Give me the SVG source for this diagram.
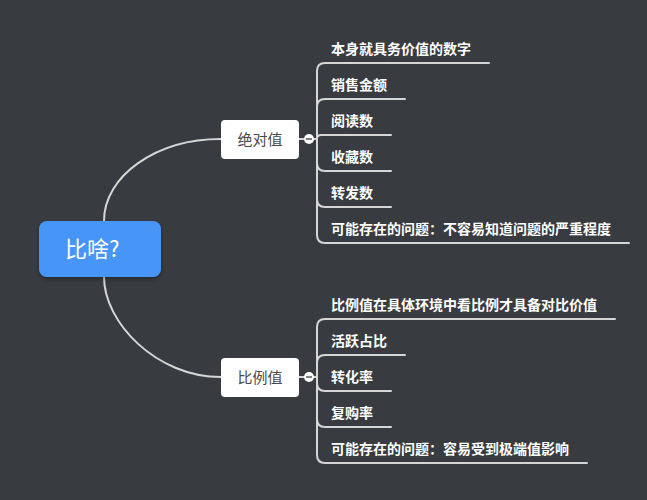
<svg xmlns="http://www.w3.org/2000/svg" width="647" height="500" viewBox="0 0 647 500">
<defs>
<style>
.bg{fill:#383b40}
.conn{fill:none;stroke:#d6d6d6;stroke-width:2;stroke-linecap:round}
.sub{fill:#ffffff;}
.subt{font-family:"Noto Sans CJK SC","Noto Sans",sans-serif;font-size:15px;fill:#4a4a4a;text-anchor:middle}
.leaf{font-family:"Noto Sans CJK SC","Noto Sans",sans-serif;font-size:14px;fill:#ffffff;font-weight:bold}
.roott{font-family:"Noto Sans CJK SC","Noto Sans",sans-serif;font-size:22px;fill:#ffffff}
.tog{fill:#ffffff}
.togm{stroke:#555555;stroke-width:1.5}
</style>
<filter id="sh" x="-20%" y="-20%" width="140%" height="150%">
<feDropShadow dx="0" dy="2" stdDeviation="2" flood-color="#000" flood-opacity="0.35"/>
</filter>
</defs>
<rect class="bg" x="0" y="0" width="647" height="500"/>
<g id="connectors">
<path class="conn" d="M104,221 C104,176 156,139 221,139"/>
<path class="conn" d="M104,277 C104,322 156,377 221,377"/>
<path class="conn" d="M299,139 H317"/>
<path class="conn" d="M299,377 H317"/>
<path class="conn" d="M317,139 V71 Q317,63 325,63 H489"/>
<path class="conn" d="M317,139 V107 Q317,99 325,99 H405"/>
<path class="conn" d="M317,139 Q317,135 321,135 H391"/>
<path class="conn" d="M317,139 V163 Q317,171 325,171 H391"/>
<path class="conn" d="M317,139 V199 Q317,207 325,207 H391"/>
<path class="conn" d="M317,139 V235 Q317,243 325,243 H629"/>
<path class="conn" d="M317,377 V327 Q317,319 325,319 H615"/>
<path class="conn" d="M317,377 V363 Q317,355 325,355 H405"/>
<path class="conn" d="M317,377 V383 Q317,391 325,391 H391"/>
<path class="conn" d="M317,377 V419 Q317,427 325,427 H391"/>
<path class="conn" d="M317,377 V455 Q317,463 325,463 H587"/>
</g>
<g id="root">
<rect x="39" y="221" width="122" height="56" rx="8" fill="#4795f7" filter="url(#sh)"/>
<text class="roott" x="65" y="257">比啥?</text>
</g>
<g id="n-absolute">
<rect class="sub" x="221" y="120" width="78" height="39" rx="4"/>
<text class="subt" x="260" y="145">绝对值</text>
<circle class="tog" cx="309" cy="139" r="5"/>
<line class="togm" x1="306" y1="139" x2="312" y2="139"/>
</g>
<g id="n-ratio">
<rect class="sub" x="221" y="358" width="78" height="39" rx="4"/>
<text class="subt" x="260" y="383">比例值</text>
<circle class="tog" cx="309" cy="377" r="5"/>
<line class="togm" x1="306" y1="377" x2="312" y2="377"/>
</g>
<g id="leaf-a1"><text class="leaf" x="331" y="54">本身就具务价值的数字</text></g>
<g id="leaf-a2"><text class="leaf" x="331" y="90">销售金额</text></g>
<g id="leaf-a3"><text class="leaf" x="331" y="126">阅读数</text></g>
<g id="leaf-a4"><text class="leaf" x="331" y="162">收藏数</text></g>
<g id="leaf-a5"><text class="leaf" x="331" y="198">转发数</text></g>
<g id="leaf-a6"><text class="leaf" x="331" y="234">可能存在的问题：不容易知道问题的严重程度</text></g>
<g id="leaf-b1"><text class="leaf" x="331" y="310">比例值在具体环境中看比例才具备对比价值</text></g>
<g id="leaf-b2"><text class="leaf" x="331" y="346">活跃占比</text></g>
<g id="leaf-b3"><text class="leaf" x="331" y="382">转化率</text></g>
<g id="leaf-b4"><text class="leaf" x="331" y="418">复购率</text></g>
<g id="leaf-b5"><text class="leaf" x="331" y="454">可能存在的问题：容易受到极端值影响</text></g>
</svg>
